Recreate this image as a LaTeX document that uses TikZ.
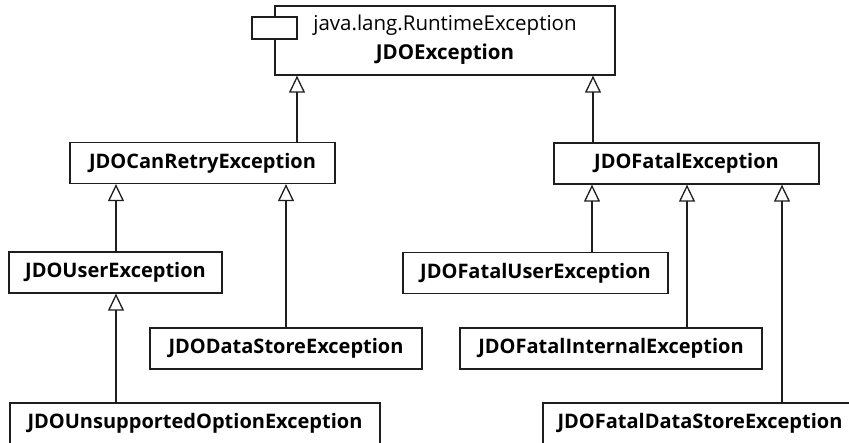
\documentclass[tikz,border=0pt]{standalone}
\usepackage{fontspec}
\setmainfont{Open Sans}
\usetikzlibrary{arrows.meta}
\definecolor{linec}{RGB}{30,30,30}
\begin{document}
\begin{tikzpicture}[x=1pt,y=-1pt,
  box/.style={draw=linec, line width=1.3pt, rectangle, inner sep=0pt, fill=white,
    minimum height=41pt, font=\fontsize{20}{24}\selectfont\bfseries},
  inh/.style={draw=linec, line width=1.3pt, -{Triangle[open,width=16pt,length=17pt]}}]
\useasboundingbox (0,0) rectangle (849,443);
\clip (0,0) rectangle (849,443);

% top class
\node[box, minimum width=340pt, minimum height=69pt] (exc) at (445,40.5) {};
\node[draw=linec, line width=1.3pt, fill=white, minimum width=45pt, minimum height=22pt, inner sep=0pt] (icon) at (274.5,28) {};
\node[align=center, inner sep=0pt, font=\fontsize{20.5}{29}\selectfont] (exctext) at (445,39.5) {java.lang.RuntimeException\\ \textbf{JDOException}};

% second level
\node[box, minimum width=265pt] (canretry) at (202.5,163) {JDOCanRetryException};
\node[box, minimum width=265pt] (fatal) at (686.5,163.5) {JDOFatalException};

% third level
\node[box, minimum width=213pt] (user) at (115.5,272.5) {JDOUserException};
\node[box, minimum width=265pt] (fataluser) at (535.5,273) {JDOFatalUserException};
\node[box, minimum width=272pt] (datastore) at (286,348.5) {JDODataStoreException};
\node[box, minimum width=302pt] (fatalinternal) at (611,348.5) {JDOFatalInternalException};

% bottom level
\node[box, minimum width=370pt] (unsupported) at (195,423.5) {JDOUnsupportedOptionException};
\node[box, minimum width=314pt] (fataldatastore) at (700,423.5) {JDOFatalDataStoreException};

% inheritance
\draw[inh] (canretry.north -| 297,0) -- (exc.south -| 297,0);
\draw[inh] (fatal.north -| 593,0) -- (exc.south -| 593,0);
\draw[inh] (user.north -| 116,0) -- (canretry.south -| 116,0);
\draw[inh] (datastore.north -| 286,0) -- (canretry.south -| 286,0);
\draw[inh] (unsupported.north -| 116,0) -- (user.south -| 116,0);
\draw[inh] (fataluser.north -| 592,0) -- (fatal.south -| 592,0);
\draw[inh] (fatalinternal.north -| 687,0) -- (fatal.south -| 687,0);
\draw[inh] (fataldatastore.north -| 782,0) -- (fatal.south -| 782,0);
\end{tikzpicture}
\end{document}
